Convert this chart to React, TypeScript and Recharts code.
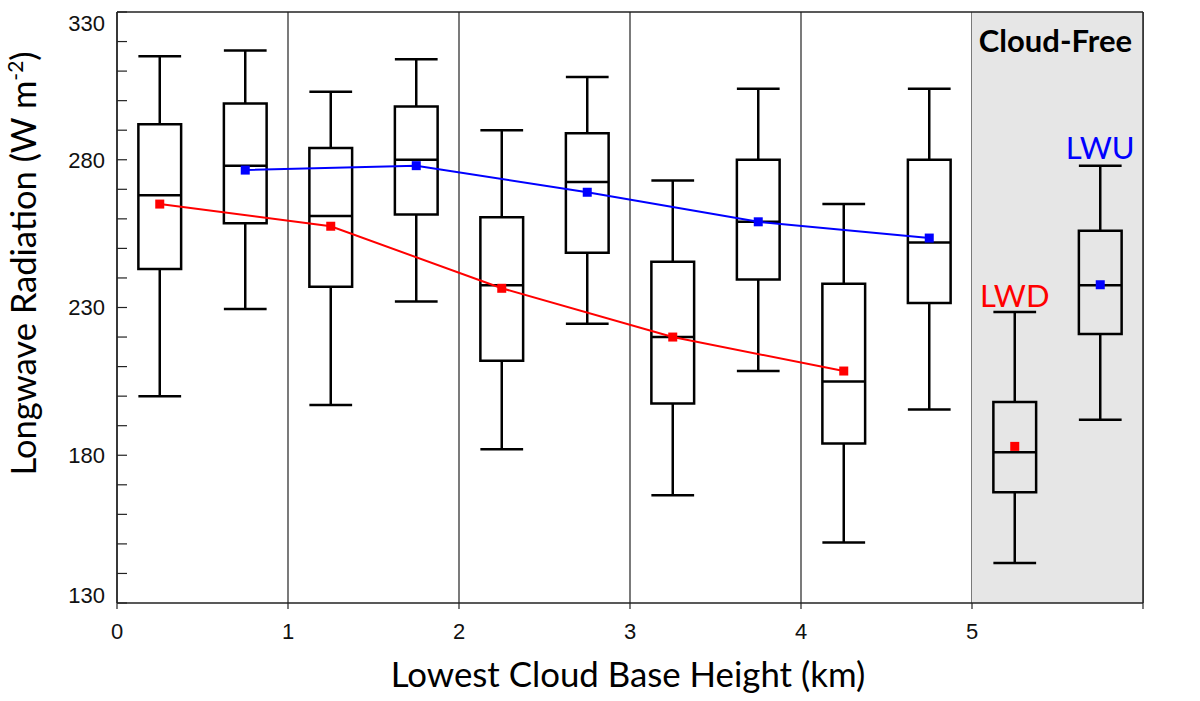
import React from "react";
import {
  CartesianGrid,
  ComposedChart,
  Line,
  ReferenceArea,
  ReferenceDot,
  ReferenceLine,
  Scatter,
  XAxis,
  YAxis,
} from "recharts";

// box positions: odd = LWD, even = LWU; last pair is cloud-free
const boxX = [0.25, 0.75, 1.25, 1.75, 2.25, 2.75, 3.25, 3.75, 4.25, 4.75, 5.25, 5.75];
const whiskerHigh = [315, 317, 303, 314, 290, 308, 273, 304, 265, 304, 228.5, 278];
const upperQuartile = [292, 299, 284, 298, 260.5, 289, 245.5, 280, 238, 280, 198, 256];
const medians = [268, 278, 261, 280, 237.5, 272.5, 220, 259, 205, 252, 181, 237.5];
const lowerQuartile = [243, 258.5, 237, 261.5, 212, 248.5, 197.5, 239.5, 184, 231.5, 167.5, 221];
const whiskerLow = [200, 229.5, 197, 232, 182, 224.5, 166.5, 208.5, 150.5, 195.5, 143.5, 192];

const lwdX = [0.25, 1.25, 2.25, 3.25, 4.25];
const lwdMean = [265, 257.5, 236.5, 220, 208.5];
const lwuX = [0.75, 1.75, 2.75, 3.75, 4.75];
const lwuMean = [276.5, 278, 269, 259, 253.5];
const clearLwdMean = [{ x: 5.25, y: 183 }];
const clearLwuMean = [{ x: 5.75, y: 237.7 }];

const xTicks = [0, 1, 2, 3, 4, 5, 6];
const xLabels = [0, 1, 2, 3, 4, 5];
const yTicks = [130, 140, 150, 160, 170, 180, 190, 200, 210, 220, 230, 240, 250, 260, 270, 280, 290, 300, 310, 320, 330];
const yLabels = [130, 180, 230, 280, 330];

const HALF = 0.125;
const RED = "#ff0000";
const BLUE = "#0000ff";
const tickFont = "'Liberation Sans', Arial, sans-serif";
const titleFont = "Lato, 'Open Sans', sans-serif";

const lwdData = lwdX.map((x, i) => ({ x, y: lwdMean[i] }));
const lwuData = lwuX.map((x, i) => ({ x, y: lwuMean[i] }));

function square(color: string) {
  return (props: any) => {
    const { cx, cy, key } = props;
    if (cx == null || cy == null) return <g key={key} />;
    return <rect key={key} x={cx - 4.5} y={cy - 4.5} width={9} height={9} fill={color} />;
  };
}

function labelShift(v: number) {
  if (v === 330) return 11;
  if (v === 130) return -8;
  return 0;
}

function LeftTick(props: any) {
  const { x, y, payload } = props;
  const v = payload.value;
  return (
    <g>
      <line x1={x} x2={x + 10} y1={y} y2={y} stroke="#222" strokeWidth={1.2} />
      {yLabels.includes(v) && (
        <text x={x - 12} y={y + labelShift(v)} dy="0.36em" textAnchor="end" fontSize={22} fontFamily={tickFont} fill="#111">
          {v}
        </text>
      )}
    </g>
  );
}

function RightTick(props: any) {
  const { x, y, payload } = props;
  const v = payload.value;
  return (
    <g>
      <line x1={x} x2={x - 10} y1={y} y2={y} stroke="#222" strokeWidth={1.2} />
      {yLabels.includes(v) && (
        <text x={x + 7} y={y + labelShift(v)} dy="0.36em" textAnchor="start" fontSize={22} fontFamily={tickFont} fill="#111">
          {v}
        </text>
      )}
    </g>
  );
}

function BottomTick(props: any) {
  const { x, y, payload } = props;
  if (!xLabels.includes(payload.value)) return <g />;
  return (
    <text x={x} y={y + 22} dy="0.36em" textAnchor="middle" fontSize={22} fontFamily={tickFont} fill="#111">
      {payload.value}
    </text>
  );
}

function renderXTitle(props: any) {
  const vb = props.viewBox;
  return (
    <text x={vb.x + vb.width / 2 - 2} y={vb.y + 84} textAnchor="middle" fontSize={34.8} fontFamily={titleFont} fill="#000">
      Lowest Cloud Base Height (km)
    </text>
  );
}

function renderYTitle(props: any) {
  const vb = props.viewBox;
  const x = vb.x + 36;
  const y = vb.y + vb.height / 2 - 44;
  return (
    <text x={x} y={y} transform={`rotate(-90, ${x}, ${y})`} textAnchor="middle" fontSize={34.5} fontFamily={titleFont} fill="#000">
      Longwave Radiation (W m
      <tspan dy={-13} fontSize={21}>-2</tspan>
      <tspan dy={13}>)</tspan>
    </text>
  );
}

function renderCloudFree(props: any) {
  const vb = props.viewBox;
  return (
    <text x={vb.x + vb.width - 11} y={vb.y + 40} textAnchor="end" fontSize={31} fontWeight={700} fontFamily={titleFont} fill="#000">
      Cloud-Free
    </text>
  );
}

export default function App() {
  return (
    <div style={{ position: "absolute", left: 0, top: 0, width: 1200, height: 701, background: "#fff" }}>
      <ComposedChart width={1200} height={701} margin={{ top: 0, right: 0, bottom: 0, left: 0 }}>
        <ReferenceArea x1={5} x2={6} y1={130} y2={330} fill="#e6e6e6" fillOpacity={1} stroke="none" label={renderCloudFree} />
        <CartesianGrid horizontal={false} stroke="#333" strokeWidth={1.3} />
        <XAxis
          dataKey="x"
          type="number"
          domain={[0, 6]}
          ticks={xTicks}
          height={98}
          axisLine={{ stroke: "#222", strokeWidth: 1.5 }}
          tickLine={{ stroke: "#222", strokeWidth: 1.2 }}
          tickSize={6}
          tickMargin={0}
          tick={<BottomTick />}
          label={renderXTitle}
        />
        <XAxis
          xAxisId="top"
          orientation="top"
          type="number"
          domain={[0, 6]}
          ticks={xTicks}
          height={12}
          axisLine={{ stroke: "#222", strokeWidth: 1.5 }}
          tickLine={{ stroke: "#222", strokeWidth: 1.2 }}
          tickSize={5}
          tick={() => <g />}
        />
        <YAxis
          type="number"
          domain={[130, 330]}
          ticks={yTicks}
          interval={0}
          width={117}
          axisLine={{ stroke: "#222", strokeWidth: 1.5 }}
          tickLine={false}
          tickSize={0}
          tickMargin={0}
          tick={<LeftTick />}
          label={renderYTitle}
        />
        <YAxis
          yAxisId="right"
          orientation="right"
          type="number"
          domain={[130, 330]}
          ticks={yTicks}
          interval={0}
          width={57}
          axisLine={{ stroke: "#222", strokeWidth: 1.5 }}
          tickLine={false}
          tickSize={0}
          tickMargin={0}
          tick={<RightTick />}
        />

        {boxX.map((p, i) => (
          <ReferenceArea
            key={`box${i}`}
            x1={p - HALF}
            x2={p + HALF}
            y1={lowerQuartile[i]}
            y2={upperQuartile[i]}
            fill="none"
            stroke="#000"
            strokeWidth={2.5}
          />
        ))}
        {boxX.map((p, i) => (
          <ReferenceLine key={`med${i}`} segment={[{ x: p - HALF, y: medians[i] }, { x: p + HALF, y: medians[i] }]} stroke="#000" strokeWidth={2.5} />
        ))}
        {boxX.map((p, i) => (
          <ReferenceLine key={`wh${i}`} segment={[{ x: p, y: upperQuartile[i] }, { x: p, y: whiskerHigh[i] }]} stroke="#000" strokeWidth={2.5} />
        ))}
        {boxX.map((p, i) => (
          <ReferenceLine key={`wl${i}`} segment={[{ x: p, y: lowerQuartile[i] }, { x: p, y: whiskerLow[i] }]} stroke="#000" strokeWidth={2.5} />
        ))}
        {boxX.map((p, i) => (
          <ReferenceLine key={`ch${i}`} segment={[{ x: p - HALF, y: whiskerHigh[i] }, { x: p + HALF, y: whiskerHigh[i] }]} stroke="#000" strokeWidth={2.5} />
        ))}
        {boxX.map((p, i) => (
          <ReferenceLine key={`cl${i}`} segment={[{ x: p - HALF, y: whiskerLow[i] }, { x: p + HALF, y: whiskerLow[i] }]} stroke="#000" strokeWidth={2.5} />
        ))}

        <ReferenceDot x={boxX[10]} y={whiskerHigh[10]} r={0} stroke="none" fill="none"
          label={{ value: "LWD", position: "top", offset: 5, fill: RED, fontSize: 31, fontFamily: titleFont }} />
        <ReferenceDot x={boxX[11]} y={whiskerHigh[11]} r={0} stroke="none" fill="none"
          label={{ value: "LWU", position: "top", offset: 7, fill: BLUE, fontSize: 31, fontFamily: titleFont }} />

        <Line data={lwdData} dataKey="y" stroke={RED} strokeWidth={2} dot={square(RED)} activeDot={false} isAnimationActive={false} />
        <Line data={lwuData} dataKey="y" stroke={BLUE} strokeWidth={2} dot={square(BLUE)} activeDot={false} isAnimationActive={false} />
        <Scatter data={clearLwdMean} dataKey="y" shape={square(RED)} isAnimationActive={false} />
        <Scatter data={clearLwuMean} dataKey="y" shape={square(BLUE)} isAnimationActive={false} />
      </ComposedChart>
    </div>
  );
}
